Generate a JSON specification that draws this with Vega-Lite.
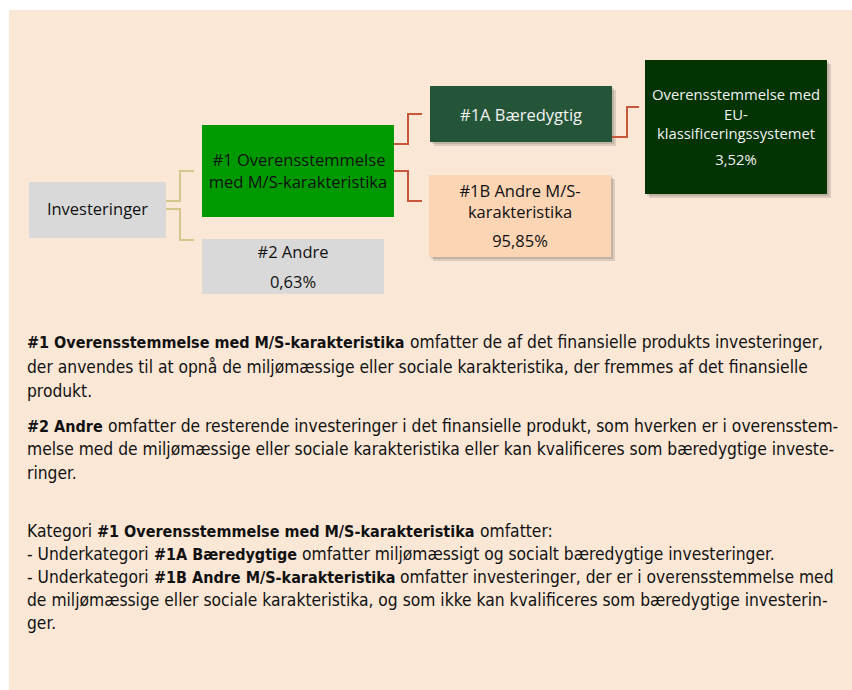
{
  "$schema": "https://vega.github.io/schema/vega-lite/v6.json",
  "width": 852,
  "height": 690,
  "padding": 0,
  "autosize": {"type": "none"},
  "background": "#ffffff",
  "config": {"view": {"stroke": null}},
  "datasets": {
    "frame": [{"x": 9, "x2": 852, "y": 10, "y2": 690}],
    "boxes": [
      {"node": "Investeringer", "x": 29, "x2": 166, "y": 182, "y2": 238, "shadow": false},
      {"node": "#1", "x": 202, "x2": 394, "y": 125, "y2": 217, "shadow": false},
      {"node": "#2", "x": 202, "x2": 384, "y": 239, "y2": 294, "shadow": false},
      {"node": "#1A", "x": 430, "x2": 612, "y": 86, "y2": 142, "shadow": true},
      {"node": "#1B", "x": 429, "x2": 611, "y": 175, "y2": 257, "shadow": true},
      {"node": "EU", "x": 645, "x2": 827, "y": 60, "y2": 194, "shadow": true}
    ],
    "links": [
      {"link": "t1", "level": "first", "i": 0, "x": 166, "y": 201},
      {"link": "t1", "level": "first", "i": 1, "x": 180, "y": 201},
      {"link": "t1", "level": "first", "i": 2, "x": 180, "y": 171},
      {"link": "t1", "level": "first", "i": 3, "x": 194, "y": 171},
      {"link": "t2", "level": "first", "i": 0, "x": 166, "y": 209},
      {"link": "t2", "level": "first", "i": 1, "x": 180, "y": 209},
      {"link": "t2", "level": "first", "i": 2, "x": 180, "y": 240},
      {"link": "t2", "level": "first", "i": 3, "x": 194, "y": 240},
      {"link": "r1", "level": "second", "i": 0, "x": 394, "y": 144},
      {"link": "r1", "level": "second", "i": 1, "x": 408, "y": 144},
      {"link": "r1", "level": "second", "i": 2, "x": 408, "y": 114},
      {"link": "r1", "level": "second", "i": 3, "x": 422, "y": 114},
      {"link": "r2", "level": "second", "i": 0, "x": 394, "y": 171},
      {"link": "r2", "level": "second", "i": 1, "x": 408, "y": 171},
      {"link": "r2", "level": "second", "i": 2, "x": 408, "y": 201},
      {"link": "r2", "level": "second", "i": 3, "x": 422, "y": 201},
      {"link": "r3", "level": "second", "i": 0, "x": 612, "y": 137},
      {"link": "r3", "level": "second", "i": 1, "x": 627, "y": 137},
      {"link": "r3", "level": "second", "i": 2, "x": 627, "y": 107},
      {"link": "r3", "level": "second", "i": 3, "x": 639, "y": 107}
    ],
    "labels": [
      {"node": "Investeringer", "text": "Investeringer", "x": 97.5, "y": 215},
      {"node": "#1", "text": "#1 Overensstemmelse", "x": 299, "y": 166},
      {"node": "#1", "text": "med M/S-karakteristika", "x": 298, "y": 188},
      {"node": "#2", "text": "#2 Andre", "x": 293, "y": 258},
      {"node": "#2", "text": "0,63%", "x": 293, "y": 288},
      {"node": "#1A", "text": "#1A Bæredygtig", "x": 521, "y": 121},
      {"node": "#1B", "text": "#1B Andre M/S-", "x": 520, "y": 197},
      {"node": "#1B", "text": "karakteristika", "x": 520, "y": 218},
      {"node": "#1B", "text": "95,85%", "x": 520, "y": 247},
      {"node": "EU", "text": "Overensstemmelse med", "x": 736, "y": 100},
      {"node": "EU", "text": "EU-", "x": 736, "y": 120},
      {"node": "EU", "text": "klassificeringssystemet", "x": 736, "y": 139},
      {"node": "EU", "text": "3,52%", "x": 736, "y": 165}
    ],
    "paragraphs": [
      {"part": "term", "x": 27, "y": 348, "text": "#1 Overensstemmelse med M/S-karakteristika"},
      {"part": "body", "x": 410, "y": 348, "text": "omfatter de af det finansielle produkts investeringer,"},
      {"part": "body", "x": 27, "y": 373, "text": "der anvendes til at opnå de miljømæssige eller sociale karakteristika, der fremmes af det finansielle"},
      {"part": "body", "x": 27, "y": 397, "text": "produkt."},
      {"part": "term", "x": 27, "y": 432, "text": "#2 Andre"},
      {"part": "body", "x": 108, "y": 432, "text": "omfatter de resterende investeringer i det finansielle produkt, som hverken er i overensstem-"},
      {"part": "body", "x": 27, "y": 455, "text": "melse med de miljømæssige eller sociale karakteristika eller kan kvalificeres som bæredygtige investe-"},
      {"part": "body", "x": 27, "y": 479, "text": "ringer."},
      {"part": "body", "x": 27, "y": 537, "text": "Kategori"},
      {"part": "term", "x": 97, "y": 537, "text": "#1 Overensstemmelse med M/S-karakteristika"},
      {"part": "body", "x": 480, "y": 537, "text": "omfatter:"},
      {"part": "body", "x": 27, "y": 560, "text": "- Underkategori"},
      {"part": "term", "x": 154, "y": 560, "text": "#1A Bæredygtige"},
      {"part": "body", "x": 302, "y": 560, "text": "omfatter miljømæssigt og socialt bæredygtige investeringer."},
      {"part": "body", "x": 27, "y": 583, "text": "- Underkategori"},
      {"part": "term", "x": 154, "y": 583, "text": "#1B Andre M/S-karakteristika"},
      {"part": "body", "x": 400, "y": 583, "text": "omfatter investeringer, der er i overensstemmelse med"},
      {"part": "body", "x": 27, "y": 606, "text": "de miljømæssige eller sociale karakteristika, og som ikke kan kvalificeres som bæredygtige investerin-"},
      {"part": "body", "x": 27, "y": 629, "text": "ger."}
    ]
  },
  "layer": [
    {
      "data": {"name": "frame"},
      "mark": {"type": "rect", "color": "#fae7d6"},
      "encoding": {
        "x": {"field": "x", "type": "quantitative", "scale": {"domain": [0, 852], "nice": false, "zero": false}, "axis": null},
        "x2": {"field": "x2"},
        "y": {"field": "y", "type": "quantitative", "scale": {"domain": [0, 690], "nice": false, "zero": false, "reverse": true}, "axis": null},
        "y2": {"field": "y2"}
      }
    },
    {
      "data": {"name": "boxes"},
      "transform": [{"filter": "datum.shadow"}],
      "mark": {"type": "rect", "color": "#000000", "opacity": 0.12, "xOffset": 4, "x2Offset": 4, "yOffset": 4, "y2Offset": 4},
      "encoding": {
        "x": {"field": "x", "type": "quantitative", "axis": null},
        "x2": {"field": "x2"},
        "y": {"field": "y", "type": "quantitative", "axis": null},
        "y2": {"field": "y2"}
      }
    },
    {
      "data": {"name": "boxes"},
      "transform": [{"filter": "datum.shadow"}],
      "mark": {"type": "rect", "color": "#000000", "opacity": 0.12, "xOffset": 2, "x2Offset": 2, "yOffset": 2, "y2Offset": 2},
      "encoding": {
        "x": {"field": "x", "type": "quantitative", "axis": null},
        "x2": {"field": "x2"},
        "y": {"field": "y", "type": "quantitative", "axis": null},
        "y2": {"field": "y2"}
      }
    },
    {
      "data": {"name": "boxes"},
      "mark": {"type": "rect", "opacity": 1},
      "encoding": {
        "x": {"field": "x", "type": "quantitative", "axis": null},
        "x2": {"field": "x2"},
        "y": {"field": "y", "type": "quantitative", "axis": null},
        "y2": {"field": "y2"},
        "fill": {
          "field": "node", "type": "nominal", "legend": null,
          "scale": {
            "domain": ["Investeringer", "#1", "#2", "#1A", "#1B", "EU"],
            "range": ["#d9d9d9", "#009a00", "#d9d9d9", "#245539", "#fcd5b4", "#023301"]
          }
        }
      }
    },
    {
      "data": {"name": "links"},
      "mark": {"type": "line", "strokeWidth": 2, "strokeJoin": "miter", "strokeCap": "butt"},
      "encoding": {
        "x": {"field": "x", "type": "quantitative", "axis": null},
        "y": {"field": "y", "type": "quantitative", "axis": null},
        "detail": {"field": "link", "type": "nominal"},
        "order": {"field": "i", "type": "quantitative"},
        "stroke": {
          "field": "level", "type": "nominal", "legend": null,
          "scale": {"domain": ["first", "second"], "range": ["#d6c58d", "#c8563b"]}
        }
      }
    },
    {
      "data": {"name": "labels"},
      "transform": [{"filter": "datum.node == 'Investeringer' || datum.node == '#1' || datum.node == '#2' || datum.node == '#1B'"}],
      "mark": {"type": "text", "align": "center", "baseline": "alphabetic", "font": "Open Sans", "fontSize": 16.5, "color": "#111111"},
      "encoding": {
        "x": {"field": "x", "type": "quantitative", "axis": null},
        "y": {"field": "y", "type": "quantitative", "axis": null},
        "text": {"field": "text", "type": "nominal"}
      }
    },
    {
      "data": {"name": "labels"},
      "transform": [{"filter": "datum.node == '#1A'"}],
      "mark": {"type": "text", "align": "center", "baseline": "alphabetic", "font": "Open Sans", "fontSize": 16.5, "color": "#f2f2f2"},
      "encoding": {
        "x": {"field": "x", "type": "quantitative", "axis": null},
        "y": {"field": "y", "type": "quantitative", "axis": null},
        "text": {"field": "text", "type": "nominal"}
      }
    },
    {
      "data": {"name": "labels"},
      "transform": [{"filter": "datum.node == 'EU'"}],
      "mark": {"type": "text", "align": "center", "baseline": "alphabetic", "font": "Open Sans", "fontSize": 14.8, "color": "#f2f2f2"},
      "encoding": {
        "x": {"field": "x", "type": "quantitative", "axis": null},
        "y": {"field": "y", "type": "quantitative", "axis": null},
        "text": {"field": "text", "type": "nominal"}
      }
    },
    {
      "data": {"name": "paragraphs"},
      "transform": [{"filter": "datum.part == 'body'"}],
      "mark": {"type": "text", "align": "left", "baseline": "alphabetic", "font": "DejaVu Sans Condensed", "fontSize": 17.3, "color": "#111111"},
      "encoding": {
        "x": {"field": "x", "type": "quantitative", "axis": null},
        "y": {"field": "y", "type": "quantitative", "axis": null},
        "text": {"field": "text", "type": "nominal"}
      }
    },
    {
      "data": {"name": "paragraphs"},
      "transform": [{"filter": "datum.part == 'term'"}],
      "mark": {"type": "text", "align": "left", "baseline": "alphabetic", "font": "DejaVu Sans Condensed", "fontSize": 16, "fontWeight": "bold", "color": "#111111"},
      "encoding": {
        "x": {"field": "x", "type": "quantitative", "axis": null},
        "y": {"field": "y", "type": "quantitative", "axis": null},
        "text": {"field": "text", "type": "nominal"}
      }
    }
  ]
}
